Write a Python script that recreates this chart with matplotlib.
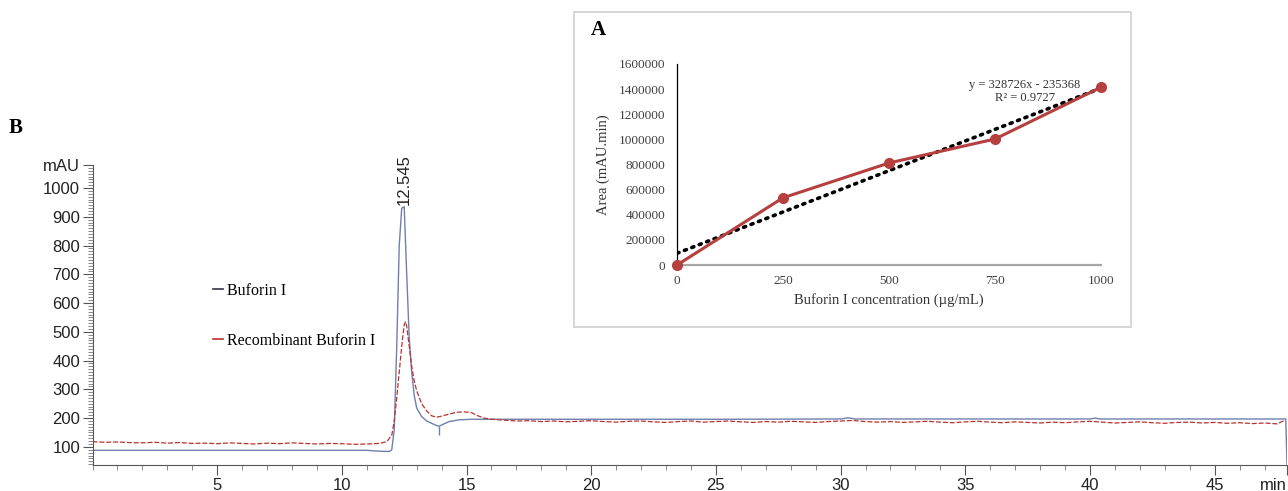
#!/usr/bin/env python3
"""
HPLC chromatogram of Buforin I vs recombinant Buforin I (panel B),
with the Buforin I standard curve as an inset (panel A).
"""

import numpy as np
import matplotlib
matplotlib.use("Agg")
import matplotlib.pyplot as plt
from matplotlib.lines import Line2D
from matplotlib.patches import Rectangle
from matplotlib.ticker import MultipleLocator

OUTPUT_PNG = "out.png"

# --- panel B: chromatogram (retention time in min, absorbance in mAU) ---
BUFORIN_T = [0, 11.0, 11.5, 11.9, 12.0, 12.1, 12.2, 12.3, 12.4, 12.5, 12.6,
             12.7, 12.8, 12.9, 13.0, 13.2, 13.4, 13.6, 13.8, 13.9, 14.0,
             14.3, 14.7, 15.2, 20, 25, 30, 30.3, 30.6, 35, 40, 40.2, 40.4,
             45, 47.85, 47.9]
BUFORIN_MAU = [88, 88, 85, 84, 90, 160, 450, 800, 930, 935, 700,
               480, 360, 280, 235, 205, 190, 182, 174, 172, 176,
               188, 194, 196, 196, 196, 197, 201, 197, 197, 197, 200, 197,
               197, 197, 40]

RECOMB_T = [0, 0.5, 1, 1.5, 2, 2.5, 3, 3.5, 4, 4.5, 5, 5.5, 6, 6.5, 7, 7.5,
            8, 8.5, 9, 9.5, 10, 10.5, 11, 11.5, 11.8,
            12.0, 12.1, 12.2, 12.3, 12.4, 12.5, 12.55, 12.6, 12.7, 12.8,
            12.9, 13.0, 13.2, 13.4, 13.6, 13.8, 14.0, 14.3, 14.6, 14.9,
            15.2, 15.4, 15.7, 16.0,
            16.5, 17, 17.5, 18, 18.5, 19, 19.5, 20, 20.5, 21, 21.5, 22,
            22.5, 23, 23.5, 24, 24.5, 25, 25.5, 26, 26.5, 27, 27.5, 28,
            28.5, 29, 29.5, 30, 30.5, 31, 31.5, 32, 32.5, 33, 33.5, 34,
            34.5, 35, 35.5, 36, 36.5, 37, 37.5, 38, 38.5, 39, 39.5, 40,
            40.5, 41, 41.5, 42, 42.5, 43, 43.5, 44, 44.5, 45, 45.5, 46,
            46.5, 47, 47.5, 47.8]
RECOMB_MAU = [118, 116, 117, 115, 114, 116, 113, 115, 112, 113, 111, 114,
              112, 110, 113, 111, 114, 112, 110, 112, 111, 109, 110, 112, 118,
              140, 190, 270, 360, 450, 525, 535, 520, 450, 380,
              330, 295, 250, 225, 208, 203, 207, 214, 220, 222,
              219, 210, 200, 196,
              193, 190, 191, 188, 190, 187, 189, 191, 188, 186, 189, 190,
              187, 185, 188, 190, 186, 188, 190, 187, 185, 188, 186, 189,
              187, 185, 188, 190, 192, 188, 186, 188, 185, 187, 189, 186,
              184, 187, 189, 186, 184, 187, 185, 183, 186, 184, 187, 189,
              186, 183, 185, 187, 184, 182, 185, 186, 183, 185, 182, 184,
              181, 183, 180, 192]

PEAK_RT = 12.5
PEAK_LABEL = "12.545"
PEAK_TOP = 940

# integration mark under the peak tail (min, from mAU, to mAU)
MARK_T = [13.9]
MARK_LO = [140]
MARK_HI = [172]

Y_TICKS = [100, 200, 300, 400, 500, 600, 700, 800, 900, 1000]
X_TICKS = [5, 10, 15, 20, 25, 30, 35, 40, 45]
T_END = 47.9
Y_TOP = 1080

# --- panel A: standard curve ---
CONC = [0, 250, 500, 750, 1000]
CONC_LABELS = ["0", "250", "500", "750", "1000"]
AREA = [0, 535000, 812000, 1003000, 1415000]
AREA_TICKS = [0, 200000, 400000, 600000, 800000, 1000000, 1200000,
              1400000, 1600000]
FIT_SLOPE = 328726
FIT_INTERCEPT = -235368
FIT_R2 = 0.9727

BLUE = "#6f7fae"
RED = "#b8332f"
CURVE_RED = "#b5403f"
SANS = ["Liberation Sans", "DejaVu Sans"]
SERIF = ["Liberation Serif", "DejaVu Serif"]


def draw_chromatogram(fig):
    ax = fig.add_axes([92.5 / 1288, 1 - 465 / 491, 1194.5 / 1288, 300 / 491])
    ax.set_facecolor("none")
    ax.plot(BUFORIN_T, BUFORIN_MAU, color=BLUE, lw=1.0)
    ax.plot(RECOMB_T, RECOMB_MAU, color=RED, lw=0.9, ls=(0, (4, 1.5)))
    ax.vlines(MARK_T, MARK_LO, MARK_HI, color=BLUE, lw=1.0)

    ax.text(PEAK_RT, PEAK_TOP, PEAK_LABEL, rotation=90, ha="center",
            va="bottom", family=SANS, fontsize=12, color="#222222")

    ax.set_xlim(0, T_END)
    ax.set_ylim(37, Y_TOP)
    ax.set_xticks(X_TICKS + [T_END])
    ax.set_xticklabels([str(t) for t in X_TICKS] + ["min"])
    ax.set_yticks(Y_TICKS + [Y_TOP])
    ax.set_yticklabels([str(v) for v in Y_TICKS] + ["mAU"])
    ax.xaxis.set_minor_locator(MultipleLocator(1))
    ax.yaxis.set_minor_locator(MultipleLocator(10))
    ax.tick_params(which="major", length=7, width=0.8, color="#555555",
                   labelsize=12, labelcolor="#222222", pad=2)
    ax.tick_params(which="minor", length=3.5, width=0.6, color="#777777")
    for lab in ax.get_xticklabels() + ax.get_yticklabels():
        lab.set_family(SANS)
    ax.get_xticklabels()[-1].set_ha("right")

    for side in ("top", "right"):
        ax.spines[side].set_visible(False)
    for side in ("left", "bottom"):
        ax.spines[side].set_color("#555555")
        ax.spines[side].set_linewidth(0.8)

    handles = [Line2D([], [], color="#333344", lw=1.2),
               Line2D([], [], color=RED, lw=1.2)]
    ax.legend(handles, ["Buforin I", "Recombinant Buforin I"],
              loc="upper left", bbox_to_anchor=(213 / 1288, 1 - 283 / 491),
              bbox_transform=fig.transFigure, frameon=False,
              handlelength=0.6, handletextpad=0.3, labelspacing=2.1,
              borderpad=0, borderaxespad=0,
              prop={"family": SERIF, "size": 11.5})
    return ax


def draw_standard_curve(fig):
    # light grey frame around the inset, kept under both axes
    fig.patches.append(Rectangle((574 / 1288, 1 - 327 / 491),
                                 557 / 1288, 315 / 491,
                                 transform=fig.transFigure, fill=True,
                                 facecolor="white", edgecolor="#d4d4d4",
                                 lw=1.3, zorder=-1))
    ax = fig.add_axes([677 / 1288, 1 - 265 / 491, 424 / 1288, 201 / 491])
    ax.set_facecolor("none")

    idx = np.arange(1, len(CONC) + 1)
    trend = FIT_SLOPE * idx + FIT_INTERCEPT
    ax.plot(CONC, trend, color="black", lw=2.6, ls=(0, (0.6, 1.6)),
            dash_capstyle="round", zorder=3)
    ax.plot(CONC, AREA, color=CURVE_RED, lw=2.2, marker="o", ms=7,
            zorder=4, clip_on=False)

    ax.set_xlim(0, 1000)
    ax.set_ylim(0, 1600000)
    ax.set_xticks(CONC)
    ax.set_xticklabels(CONC_LABELS)
    ax.set_yticks(AREA_TICKS)
    ax.set_yticklabels([str(v) for v in AREA_TICKS])
    ax.tick_params(length=0, labelsize=9.5, labelcolor="#404040")
    ax.tick_params(axis="y", pad=8.5)
    ax.tick_params(axis="x", pad=7)
    for lab in ax.get_xticklabels() + ax.get_yticklabels():
        lab.set_family(SERIF)

    for side in ("top", "right"):
        ax.spines[side].set_visible(False)
    ax.spines["left"].set_color("black")
    ax.spines["left"].set_linewidth(0.9)
    ax.spines["bottom"].set_color("#a6a6a6")
    ax.spines["bottom"].set_linewidth(1.6)

    ax.set_xlabel("Buforin I concentration (\u00b5g/mL)", family=SERIF,
                  fontsize=10.5, color="#333333")
    ax.xaxis.set_label_coords(0.5, -0.14)
    ax.set_ylabel("Area (mAU.min)", family=SERIF, fontsize=10.5,
                  color="#333333")
    ax.yaxis.set_label_coords(-0.158, 0.5)

    ax.text(0.821, 0.863,
            f"y = {FIT_SLOPE}x - {abs(FIT_INTERCEPT)}\nR\u00b2 = {FIT_R2}",
            transform=ax.transAxes, ha="center", va="center",
            multialignment="center", family=SERIF, fontsize=9,
            color="#333333", linespacing=1.15, zorder=5)
    return ax


def main():
    fig = plt.figure(figsize=(12.88, 4.91), dpi=100)
    fig.patch.set_facecolor("white")

    draw_chromatogram(fig)
    draw_standard_curve(fig)

    fig.text(16 / 1288, 1 - 128 / 491, "B", family=SERIF, fontsize=15,
             fontweight="bold", ha="center", va="center")
    fig.text(598 / 1288, 1 - 30 / 491, "A", family=SERIF, fontsize=15,
             fontweight="bold", ha="center", va="center")

    fig.savefig(OUTPUT_PNG, dpi=100)
    print(f"Saved chart to {OUTPUT_PNG}")


if __name__ == "__main__":
    main()
